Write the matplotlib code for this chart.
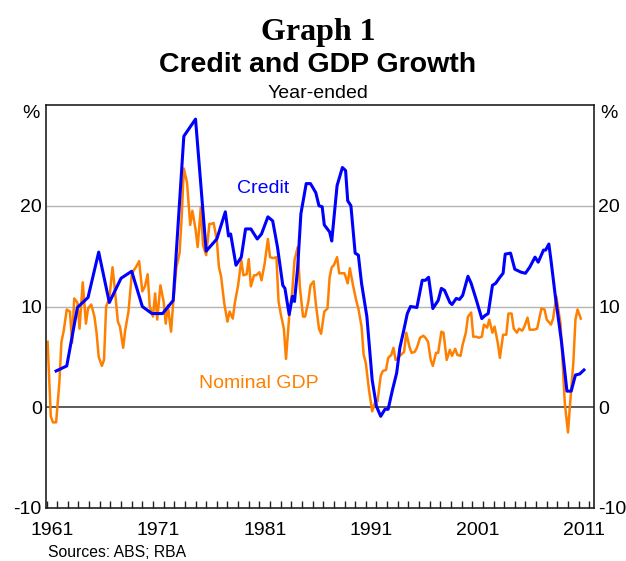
import numpy as np
import matplotlib
matplotlib.use('Agg')
import matplotlib.pyplot as plt

plt.rcParams['font.family'] = ['Liberation Sans', 'DejaVu Sans']
plt.rcParams['axes.unicode_minus'] = False

# credit growth, year-ended (%) - annual to mid-70s, then more frequent
credit_x = [1961.4, 1962.4, 1963.4, 1964.4, 1965.4, 1966.4, 1967.5, 1968.5,
            1969.5, 1970.4, 1971.4, 1972.4, 1973.4, 1974.5, 1975.5, 1976.5,
            1977.3, 1977.6, 1977.8, 1978.3, 1978.8, 1979.2, 1979.7, 1980.3,
            1980.7, 1981.3, 1981.75, 1982.2, 1982.7, 1982.9, 1983.3, 1983.6,
            1983.8, 1984.1, 1984.4, 1984.9, 1985.3, 1985.8, 1986.1, 1986.4,
            1986.6, 1987.1, 1987.3, 1987.8, 1988.3, 1988.6, 1988.8, 1989.1,
            1989.5, 1989.8, 1990.1, 1990.6, 1991.1, 1991.5, 1991.9, 1992.3,
            1992.6, 1993.0, 1993.4, 1993.7, 1994.1, 1994.4, 1994.7, 1995.3,
            1995.8, 1996.1, 1996.4, 1996.8, 1997.3, 1997.6, 1997.9, 1998.4,
            1998.6, 1999.0, 1999.3, 1999.6, 2000.1, 2000.4, 2000.9, 2001.4,
            2001.7, 2002.0, 2002.4, 2002.7, 2003.1, 2003.4, 2003.6, 2004.1,
            2004.5, 2005.1, 2005.5, 2005.9, 2006.4, 2006.7, 2007.2, 2007.4,
            2007.7, 2007.9, 2008.3, 2008.9, 2009.4, 2009.8, 2010.2, 2010.6,
            2011.0]
credit_y = [3.6, 4.1, 9.9, 10.9, 15.4, 10.4, 12.8, 13.5,
            10.0, 9.3, 9.3, 10.6, 26.9, 28.6, 15.5, 16.7,
            19.4, 17.0, 17.2, 14.1, 14.9, 17.7, 17.7, 16.7,
            17.2, 18.9, 18.5, 15.9, 12.1, 11.8, 9.2, 11.0,
            10.5, 13.9, 19.2, 22.2, 22.2, 21.3, 20.0, 19.9,
            18.1, 17.4, 16.5, 22.0, 23.8, 23.5, 20.5, 20.0,
            15.3, 15.1, 12.3, 9.0, 2.7, 0.1, -0.9, -0.2,
            -0.2, 1.7, 3.4, 5.9, 7.8, 9.3, 10.0, 9.9,
            12.6, 12.6, 12.9, 9.8, 10.6, 11.8, 11.6, 10.4,
            10.2, 10.8, 10.7, 11.1, 13.0, 12.3, 10.6, 8.8,
            9.1, 9.3, 12.1, 12.3, 12.9, 13.3, 15.2, 15.3,
            13.7, 13.4, 13.3, 13.9, 14.9, 14.4, 15.6, 15.6,
            16.2, 14.6, 11.1, 6.4, 1.6, 1.6, 3.2, 3.3,
            3.7]

# nominal GDP growth, year-ended (%), quarterly
gdp_x = [1960.6, 1960.9, 1961.1, 1961.4, 1961.7, 1961.9, 1962.1, 1962.4,
         1962.7, 1962.9, 1963.1, 1963.4, 1963.6, 1963.9, 1964.2, 1964.4,
         1964.7, 1965.0, 1965.2, 1965.4, 1965.7, 1965.9, 1966.1, 1966.4,
         1966.7, 1966.9, 1967.2, 1967.4, 1967.7, 1967.9, 1968.2, 1968.5,
         1968.7, 1968.9, 1969.2, 1969.5, 1969.75, 1970.0, 1970.2, 1970.5,
         1970.7, 1970.9, 1971.2, 1971.5, 1971.7, 1971.9, 1972.2, 1972.4,
         1972.7, 1973.0, 1973.2, 1973.4, 1973.7, 1974.0, 1974.2, 1974.5,
         1974.7, 1975.0, 1975.2, 1975.5, 1975.8, 1976.0, 1976.2, 1976.5,
         1976.7, 1976.9, 1977.2, 1977.5, 1977.7, 1978.0, 1978.2, 1978.5,
         1978.8, 1979.0, 1979.3, 1979.5, 1979.7, 1980.0, 1980.2, 1980.5,
         1980.7, 1981.0, 1981.3, 1981.5, 1981.8, 1982.1, 1982.3, 1982.5,
         1982.8, 1983.0, 1983.3, 1983.6, 1983.8, 1984.1, 1984.3, 1984.6,
         1984.8, 1985.1, 1985.3, 1985.6, 1985.8, 1986.1, 1986.3, 1986.6,
         1986.9, 1987.1, 1987.3, 1987.5, 1987.8, 1988.0, 1988.3, 1988.5,
         1988.8, 1989.0, 1989.3, 1989.6, 1989.8, 1990.1, 1990.3, 1990.5,
         1990.8, 1991.1, 1991.4, 1991.6, 1991.9, 1992.1, 1992.4, 1992.6,
         1992.9, 1993.1, 1993.3, 1993.6, 1993.8, 1994.1, 1994.3, 1994.6,
         1994.8, 1995.1, 1995.3, 1995.6, 1995.9, 1996.1, 1996.35, 1996.6,
         1996.8, 1997.1, 1997.3, 1997.6, 1997.8, 1998.1, 1998.4, 1998.6,
         1998.9, 1999.1, 1999.4, 1999.6, 1999.9, 2000.1, 2000.4, 2000.6,
         2000.9, 2001.1, 2001.4, 2001.6, 2001.9, 2002.1, 2002.4, 2002.6,
         2002.9, 2003.1, 2003.4, 2003.7, 2003.9, 2004.2, 2004.4, 2004.7,
         2004.9, 2005.2, 2005.4, 2005.7, 2005.9, 2006.3, 2006.6, 2007.0,
         2007.3, 2007.5, 2007.9, 2008.1, 2008.4, 2008.8, 2009.0, 2009.2,
         2009.5, 2009.7, 2010.0, 2010.2, 2010.4, 2010.7]
gdp_y = [6.5, -0.9, -1.5, -1.5, 2.4, 6.5, 7.5, 9.7,
         9.5, 6.4, 10.8, 10.4, 7.8, 12.4, 8.3, 9.8,
         10.2, 9.0, 7.4, 5.0, 4.1, 4.7, 10.0, 10.8,
         13.9, 11.9, 8.5, 8.0, 5.9, 7.7, 9.5, 13.1,
         13.6, 13.9, 14.5, 11.5, 12.0, 13.2, 10.0, 9.0,
         11.3, 8.7, 12.1, 10.5, 8.3, 10.1, 7.5, 10.3,
         13.9, 15.3, 18.9, 23.7, 22.3, 18.1, 19.5, 17.7,
         15.9, 19.9, 16.1, 15.1, 18.2, 18.2, 18.3, 16.6,
         13.9, 13.0, 10.3, 8.5, 9.5, 8.8, 10.4, 12.1,
         14.6, 13.1, 13.2, 14.7, 12.0, 13.1, 13.1, 13.4,
         12.6, 14.3, 16.7, 14.9, 14.8, 14.9, 10.5, 9.3,
         7.8, 4.8, 9.0, 11.6, 14.6, 15.9, 12.0, 9.0,
         9.0, 10.5, 12.1, 12.5, 10.3, 7.8, 7.3, 9.5,
         9.8, 12.9, 13.9, 14.1, 14.9, 13.3, 13.3, 13.3,
         12.3, 13.8, 12.1, 10.6, 9.8, 8.0, 5.2, 4.4,
         1.7, -0.4, 0.6, 0.6, 3.1, 3.6, 3.7, 4.9,
         5.2, 5.9, 4.7, 5.0, 5.2, 5.5, 7.4, 6.0,
         5.4, 5.5, 5.9, 6.9, 7.1, 6.9, 6.5, 4.7,
         4.1, 5.4, 5.4, 7.5, 7.4, 4.7, 5.7, 5.1,
         5.8, 5.2, 5.1, 6.2, 7.4, 9.0, 9.4, 7.0,
         7.0, 6.9, 7.0, 8.2, 7.9, 8.7, 7.4, 8.0,
         6.4, 4.9, 7.2, 7.2, 9.3, 9.3, 7.8, 7.4,
         7.8, 7.6, 8.0, 8.9, 7.7, 7.7, 7.8, 9.8,
         9.7, 8.7, 8.2, 8.8, 11.0, 8.3, 4.4, 0.4,
         -2.5, 0.4, 4.4, 8.7, 9.7, 8.8]

year_labels = [1961, 1971, 1981, 1991, 2001, 2011]
y_ticks = [-10, 0, 10, 20]

fig = plt.figure(figsize=(6.26, 5.61), dpi=100)
ax = fig.add_axes([0.0735, 0.0945, 0.8755, 0.7183])

ax.axhline(0, color='#404040', lw=1.2, zorder=1)
for v in [10, 20]:
    ax.axhline(v, color='#b4b4b4', lw=1.0, zorder=0)

ax.plot(gdp_x, gdp_y, color='#ff8000', lw=1.8, zorder=2)
ax.plot(credit_x, credit_y, color='#0000ff', lw=2.2, zorder=3)

ax.set_xlim(1960.45, 2011.95)
ax.set_ylim(-10, 30)

ax.set_xticks(year_labels)
ax.set_xticklabels([str(y) for y in year_labels])
ax.set_xticks(np.arange(1960.5, 2012, 1.0), minor=True)
ax.tick_params(axis='x', which='major', length=0, pad=10, labelsize=14)
ax.tick_params(axis='x', which='minor', direction='in', length=5,
               width=1, color='#202020')

ax.set_yticks(y_ticks)
ax.tick_params(axis='y', length=0, pad=3, labelsize=14,
               labelleft=True, labelright=True)

for s in ax.spines.values():
    s.set_linewidth(1.2)
    s.set_color('#202020')

ax.text(-0.011, 0.98, '%', transform=ax.transAxes, ha='right', va='center',
        fontsize=14)
ax.text(1.011, 0.98, '%', transform=ax.transAxes, ha='left', va='center',
        fontsize=14)

ax.text(1980.85, 21.7, 'Credit', color='#0000ff', fontsize=14,
        ha='center', va='center')
ax.text(1980.4, 2.4, 'Nominal GDP', color='#ff8000', fontsize=14,
        ha='center', va='center')

fig.text(0.508, 0.942, 'Graph 1', family='Liberation Serif',
         fontweight='bold', fontsize=23, ha='center', va='center')
fig.text(0.508, 0.884, 'Credit and GDP Growth', fontweight='bold',
         fontsize=20.5, ha='center', va='center')
fig.text(0.508, 0.834, 'Year-ended', fontsize=14, ha='center', va='center')
fig.text(0.077, 0.016, 'Sources: ABS; RBA', fontsize=11.3,
         ha='left', va='center')

fig.savefig('out.png', dpi=100)
